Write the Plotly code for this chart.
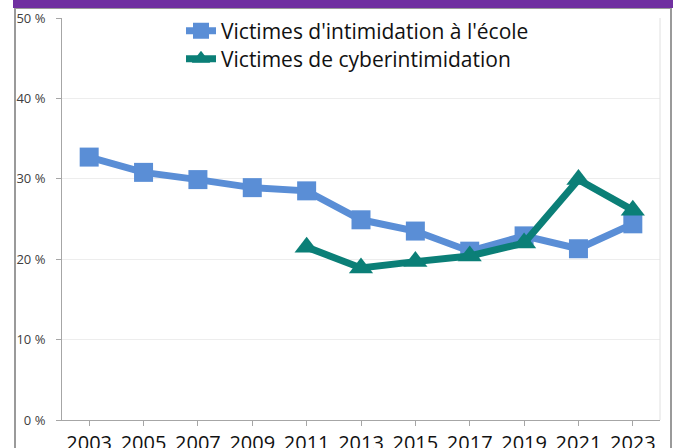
import plotly.graph_objects as go

years = ["2003", "2005", "2007", "2009", "2011", "2013", "2015", "2017", "2019", "2021", "2023"]
school = [32.7, 30.8, 29.9, 28.9, 28.5, 24.9, 23.5, 21.0, 22.9, 21.3, 24.4]
cyber_years = ["2011", "2013", "2015", "2017", "2019", "2021", "2023"]
cyber = [21.5, 18.9, 19.7, 20.4, 22.0, 29.9, 26.1]
y_ticks = [0, 10, 20, 30, 40, 50]
y_labels = ["0 %", "10 %", "20 %", "30 %", "40 %", "50 %"]

BLUE = "#5A8ED6"
TEAL = "#0B7F77"
FONT = "Open Sans"

fig = go.Figure()
fig.add_trace(go.Scatter(
    x=years, y=school, name="Victimes d'intimidation à l'école",
    mode="lines+markers", legend="legend",
    line=dict(color=BLUE, width=7),
    marker=dict(symbol="square", size=19, color=BLUE),
))
fig.add_trace(go.Scatter(
    x=cyber_years, y=cyber, name="Victimes de cyberintimidation",
    mode="lines+markers", legend="legend2",
    line=dict(color=TEAL, width=7),
    marker=dict(symbol="triangle-up", size=21, color=TEAL),
))

L, R, T, B = 62, 18, 18, 28
W, H = 678, 448
pw, ph = W - L - R, H - T - B

def px(xp):
    return (xp - L) / pw

def py(yp):  # yp measured from top
    return (H - yp - B) / ph

leg_common = dict(
    xanchor="left", yanchor="middle",
    bgcolor="rgba(0,0,0,0)",
    font=dict(size=21, family=FONT, color="#111111"),
    itemwidth=30,
)

fig.update_layout(
    width=W, height=H,
    margin=dict(l=L, r=R, t=T, b=B, autoexpand=False),
    paper_bgcolor="white", plot_bgcolor="white",
    font=dict(family=FONT, color="#222222"),
    showlegend=True,
    legend=dict(x=px(181), y=py(31), **leg_common),
    legend2=dict(x=px(181), y=py(59), **leg_common),
    xaxis=dict(
        type="category", categoryorder="array", categoryarray=years,
        range=[-0.5, 10.5], automargin=False,
        showgrid=False, zeroline=False,
        showline=True, linecolor="#A6A6A6", linewidth=1,
        ticks="outside", ticklen=5, tickcolor="#A6A6A6",
        ticklabelstandoff=0,
        tickfont=dict(size=20, family=FONT, color="#111111"),
    ),
    yaxis=dict(
        range=[0, 50], tickvals=y_ticks, ticktext=y_labels, automargin=False,
        showgrid=True, gridcolor="#EDEDED", gridwidth=1,
        zeroline=False,
        showline=True, linecolor="#A6A6A6", linewidth=1,
        ticks="outside", ticklen=5, tickcolor="#A6A6A6",
        ticklabelstandoff=8,
        tickfont=dict(size=13, family=FONT, color="#404040"),
    ),
    shapes=[
        dict(type="line", xref="paper", yref="paper", x0=1, x1=1, y0=0, y1=1,
             line=dict(color="#E0E0E0", width=1)),
        dict(type="rect", xref="paper", yref="paper",
             x0=px(15), x1=px(671), y0=py(452), y1=py(8),
             line=dict(color="#9A9A9A", width=2), layer="below"),
        dict(type="rect", xref="paper", yref="paper",
             x0=px(13), x1=px(673), y0=py(8), y1=py(-2),
             fillcolor="#7030A0", line=dict(width=0), layer="above"),
    ],
)

fig.write_html("out.html",
               config={"displayModeBar": False},
               post_script="document.body.style.margin='0';document.body.style.overflow='hidden';")
